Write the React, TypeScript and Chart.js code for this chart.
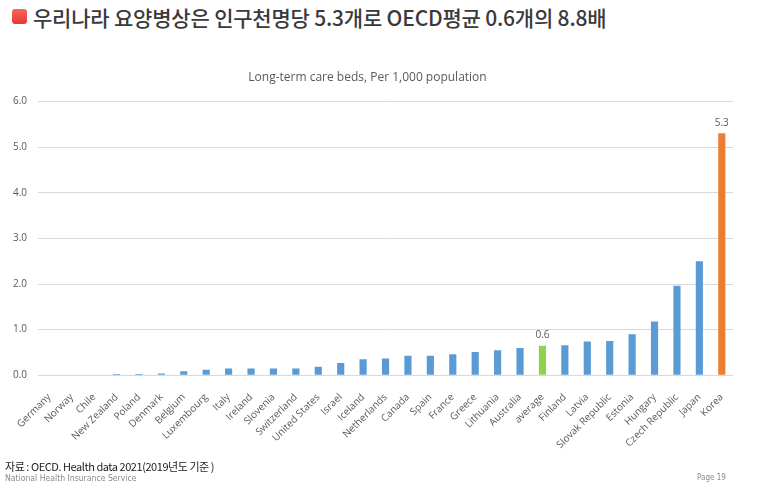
import React, { useEffect, useRef } from "react";
import { Chart, registerables } from "chart.js";

Chart.register(...registerables);

const categories = [
  "Germany", "Norway", "Chile", "New Zealand", "Poland", "Denmark", "Belgium",
  "Luxembourg", "Italy", "Ireland", "Slovenia", "Switzerland", "United States",
  "Israel", "Iceland", "Netherlands", "Canada", "Spain", "France", "Greece",
  "Lithuania", "Australia", "average", "Finland", "Latvia", "Slovak Republic",
  "Estonia", "Hungary", "Czech Republic", "Japan", "Korea",
];

const beds = [
  0, 0, 0.01, 0.03, 0.03, 0.04, 0.09, 0.12, 0.15, 0.15, 0.15, 0.15, 0.19,
  0.27, 0.35, 0.37, 0.43, 0.43, 0.46, 0.51, 0.55, 0.6, 0.65, 0.66, 0.74,
  0.75, 0.9, 1.18, 1.96, 2.5, 5.3,
];

const shownLabels: Record<string, string> = { average: "0.6", Korea: "5.3" };

const yTicks = [0, 1, 2, 3, 4, 5, 6];

const BLUE = "#5b9bd5";
const GREEN = "#92d050";
const ORANGE = "#ed7d31";

const barColors = categories.map((c) =>
  c === "Korea" ? ORANGE : c === "average" ? GREEN : BLUE
);

const valueLabelPlugin = {
  id: "valueLabels",
  afterDatasetsDraw(chart: any) {
    const ctx = chart.ctx;
    const meta = chart.getDatasetMeta(0);
    ctx.save();
    ctx.font = "10px 'Open Sans', 'Noto Sans', sans-serif";
    ctx.fillStyle = "#595959";
    ctx.textAlign = "center";
    ctx.textBaseline = "bottom";
    categories.forEach((c, i) => {
      const txt = shownLabels[c];
      if (!txt) return;
      const el = meta.data[i];
      ctx.fillText(txt, el.x, el.y - 5);
    });
    ctx.restore();
  },
};

function BedChart() {
  const ref = useRef<HTMLCanvasElement>(null);
  useEffect(() => {
    if (!ref.current) return;
    const chart = new Chart(ref.current, {
      type: "bar",
      data: {
        labels: categories,
        datasets: [
          {
            data: beds,
            backgroundColor: barColors,
            barPercentage: 0.32,
            categoryPercentage: 1,
          },
        ],
      },
      options: {
        animation: false,
        responsive: false,
        maintainAspectRatio: false,
        layout: { padding: { left: 2, right: 27, top: 0, bottom: 0 } },
        plugins: {
          legend: { display: false },
          tooltip: { enabled: false },
          title: {
            display: true,
            text: "Long-term care beds, Per 1,000 population",
            color: "#595959",
            font: { family: "'Open Sans', 'Noto Sans', sans-serif", size: 12, weight: "normal" },
            padding: { top: 10, bottom: 17 },
          },
        },
        scales: {
          y: {
            min: 0,
            max: 6,
            afterBuildTicks: (axis: any) => {
              axis.ticks = yTicks.map((v) => ({ value: v }));
            },
            ticks: {
              color: "#595959",
              padding: 11,
              font: { family: "'Open Sans', 'Noto Sans', sans-serif", size: 10 },
              callback: (v: any) => Number(v).toFixed(1),
            },
            grid: { color: "#d9d9d9", lineWidth: 1, drawTicks: false },
            border: { display: false },
          },
          x: {
            grid: { display: false },
            border: { display: false },
            ticks: {
              color: "#595959",
              minRotation: 45,
              maxRotation: 45,
              autoSkip: false,
              padding: 8,
              font: { family: "'Open Sans', 'Noto Sans', sans-serif", size: 10 },
            },
          },
        },
      },
      plugins: [valueLabelPlugin],
    });
    return () => chart.destroy();
  }, []);
  return <canvas ref={ref} width={760} height={399} style={{ display: "block" }} />;
}

export default function App() {
  useEffect(() => {
    document.body.style.margin = "0";
  }, []);
  return (
    <div
      style={{
        position: "relative",
        width: 760,
        height: 490,
        background: "#ffffff",
        overflow: "hidden",
        fontFamily: "'Noto Sans CJK KR', 'Noto Sans', sans-serif",
      }}
    >
      <div
        style={{
          position: "absolute",
          left: 12,
          top: 9,
          width: 15,
          height: 15,
          borderRadius: 3,
          background: "linear-gradient(#f5665c, #e53a30)",
        }}
      />
      <div
        style={{
          position: "absolute",
          left: 33,
          top: 1,
          fontSize: 21,
          fontWeight: 500,
          color: "#3a3a3a",
          lineHeight: "32px",
          whiteSpace: "nowrap",
          letterSpacing: -0.2,
        }}
      >
        우리나라 요양병상은 인구천명당 5.3개로 OECD평균 0.6개의 8.8배
      </div>
      <div style={{ position: "absolute", left: 0, top: 60 }}>
        <BedChart />
      </div>
      <div
        style={{
          position: "absolute",
          left: 5,
          top: 458,
          fontSize: 11,
          color: "#222",
          whiteSpace: "nowrap",
          letterSpacing: -0.45,
        }}
      >
        자료 : OECD. Health data 2021(2019년도 기준 )
      </div>
      <div
        style={{
          position: "absolute",
          left: 5,
          top: 473,
          fontSize: 8.6,
          color: "#8a8a8a",
          whiteSpace: "nowrap",
          fontFamily: "'DejaVu Sans Condensed', 'DejaVu Sans', sans-serif",
          fontStretch: "condensed",
        }}
      >
        National Health Insurance Service
      </div>
      <div
        style={{
          position: "absolute",
          left: 697,
          top: 473,
          fontSize: 8,
          color: "#8a8a8a",
          fontFamily: "'DejaVu Sans Condensed', 'DejaVu Sans', sans-serif",
          fontStretch: "condensed",
        }}
      >
        Page 19
      </div>
    </div>
  );
}
